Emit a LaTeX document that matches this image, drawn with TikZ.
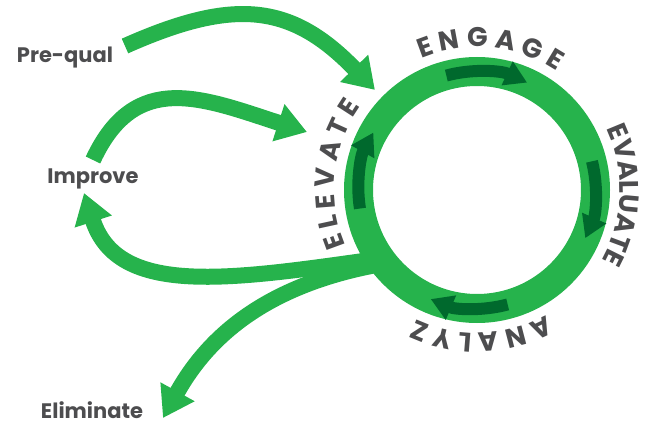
\documentclass[tikz,border=0pt]{standalone}
\usepackage{fontspec}
\setmainfont{Poppins}
\usetikzlibrary{arrows.meta, decorations.text}
\usepackage{xcolor}
\definecolor{ringgreen}{RGB}{38,179,76}
\definecolor{darkgreen}{RGB}{0,105,45}
\definecolor{labelgray}{RGB}{77,77,79}
\newcommand*{\ringfont}{\fontsize{27}{27}\selectfont\bfseries\color{labelgray}}

\begin{document}
\begin{tikzpicture}[x=1pt, y=1pt, lbl/.style={text=labelgray, font=\fontsize{21}{21}\selectfont\bfseries},
    flow/.style={draw=ringgreen, line width=16pt, -{Triangle[length=30pt, width=37pt]}},
    turn/.style={draw=darkgreen, line width=12pt, -{Triangle[length=22pt, width=25pt]}},
    ringtext/.style={decorate, decoration={text along path, text align=fit to path stretching spaces, text={|\ringfont|#1}}},
    ringtextc/.style={decorate, decoration={text along path, text align=center, text={|\ringfont|#1}}}]
    \useasboundingbox (0,0) rectangle (657,-425);

    \node[circle, draw=ringgreen, line width=29pt, minimum size=237pt, inner sep=0pt] (ring) at (477,-190) {};
    \coordinate (stemtop) at ([shift={(215:120pt)}]ring.center);
    \coordinate (stembot) at ([shift={(218:120pt)}]ring.center);

    \node[lbl] (prequal) at (65,-58) {Pre-qual};
    \node[lbl] (improve) at (93,-179) {Improve};
    \node[lbl] (eliminate) at (92,-410) {Eliminate};
    \coordinate (elevate) at (307,-132);

    \draw[flow] ([shift={(60,12)}]prequal.center) .. controls +(24:120) and +(134:120) .. ([shift={(-8,6)}]ring.135);
    \draw[flow] ([yshift=19]improve.center) .. controls +(65:100) and +(162:110) .. (elevate);
    \draw[flow] (stemtop) .. controls +(188:150) and +(-72:110) .. ([shift={(-9,-14)}]improve.center);
    \draw[flow] (stembot) .. controls +(190:110) and +(61:100) .. ([shift={(71,-8)}]eliminate.center);

    \draw[turn] ([shift={(105:118.5pt)}]ring.center) arc[start angle=105, end angle=65, radius=118.5pt];
    \draw[turn] ([shift={(14:118.5pt)}]ring.center) arc[start angle=14, end angle=-24, radius=118.5pt];
    \draw[turn] ([shift={(-75:118.5pt)}]ring.center) arc[start angle=-75, end angle=-113, radius=118.5pt];
    \draw[turn] ([shift={(189:118.5pt)}]ring.center) arc[start angle=189, end angle=151, radius=118.5pt];

    \path[ringtext={E N G A G E }] ([shift={(113:143pt)}]ring.center) arc[start angle=113, end angle=56, radius=143pt];
    \path[ringtextc=EVALUATE] ([shift={(48:143pt)}]ring.center) arc[start angle=48, end angle=-52, radius=143pt];
    \path[ringtext={A N A L Y Z E }] ([shift={(-61:143pt)}]ring.center) arc[start angle=-61, end angle=-119, radius=143pt];
    \path[ringtext={E L E V A T E }] ([shift={(203:143pt)}]ring.center) arc[start angle=203, end angle=146, radius=143pt];
\end{tikzpicture}
\end{document}
